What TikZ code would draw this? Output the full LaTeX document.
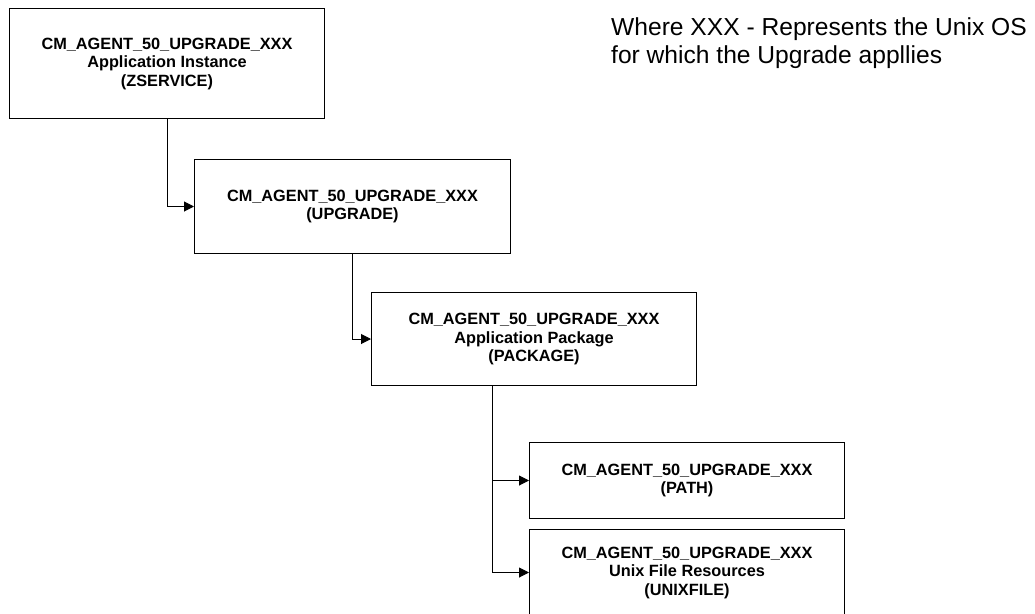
\documentclass[tikz,border=0pt]{standalone}
\usepackage{fontspec}
\setmainfont{Liberation Sans}
\usetikzlibrary{arrows.meta}
\begin{document}
\begin{tikzpicture}[x=1pt,y=-1pt,
  box/.style={draw=black,line width=1pt,fill=white,anchor=north west,inner sep=0pt,align=center,
    font=\fontsize{16.3}{18.5}\selectfont\bfseries},
  conn/.style={draw=black,line width=1pt,-{Triangle[length=10pt,width=10pt]}},
  note/.style={anchor=north west,inner sep=0pt,align=left,font=\fontsize{24.6}{28}\selectfont}]
\useasboundingbox (0,0) rectangle (1035,613);
\node[box,minimum width=315,minimum height=110] (b1) at (9,8)
  {CM\_AGENT\_50\_UPGRADE\_XXX\\Application Instance\\(ZSERVICE)};
\node[box,minimum width=316,minimum height=94] (b2) at (194,159)
  {CM\_AGENT\_50\_UPGRADE\_XXX\\(UPGRADE)};
\node[box,minimum width=325,minimum height=93] (b3) at (371,292)
  {CM\_AGENT\_50\_UPGRADE\_XXX\\Application Package\\(PACKAGE)};
\node[box,minimum width=315,minimum height=76] (b4) at (529,442)
  {CM\_AGENT\_50\_UPGRADE\_XXX\\(PATH)};
\node[box,minimum width=315,minimum height=86] (b5) at (529,529)
  {CM\_AGENT\_50\_UPGRADE\_XXX\\Unix File Resources\\(UNIXFILE)};
\node[note] (n) at (611,17.4) {Where XXX - Represents the Unix OS\\for which the Upgrade appllies};
\coordinate (b3s) at ([xshift=121pt]b3.south west);
\draw[conn] (b1.south) |- (b2.west);
\draw[conn] (b2.south) |- (b3.west);
\draw[conn] (b3s) |- (b4.west);
\draw[conn] (b3s) |- (b5.west);
\end{tikzpicture}
\end{document}
